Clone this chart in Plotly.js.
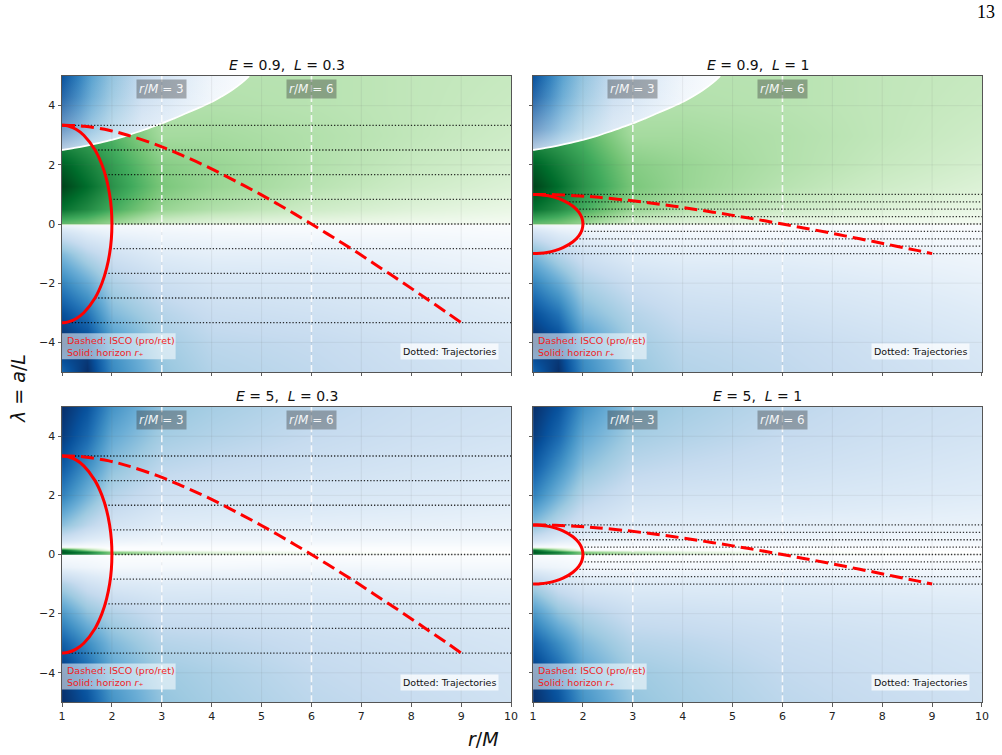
<!DOCTYPE html>
<html>
<head>
<meta charset="utf-8">
<script src="https://cdn.plot.ly/plotly-3.0.1.min.js"></script>
<style>
  html, body { margin: 0; padding: 0; background: #ffffff; }
  #chart { width: 1002px; height: 755px; }
</style>
</head>
<body>
<div id="chart"></div>
<script>
// ---------------- data ----------------
// Radial nodes (r/M) of the background field
const rNodes = [1, 1.5, 2, 3, 4, 6, 8, 10];

// Field for E = 0.9 (negative = blue, positive = green), rows follow lamNodesLowE
const lamNodesLowE = [-5, -4, -3, -2, -1, -0.3, -0.02, 0.02, 0.5, 1.3, 2, 3, 4, 5];
const fieldLowE = [
  [-0.80, -1.00, -0.66, -0.40, -0.31, -0.27, -0.22, -0.17],
  [-1.00, -0.92, -0.60, -0.36, -0.28, -0.25, -0.20, -0.15],
  [-0.88, -0.74, -0.45, -0.30, -0.23, -0.20, -0.16, -0.12],
  [-0.68, -0.52, -0.33, -0.22, -0.17, -0.15, -0.12, -0.09],
  [-0.45, -0.30, -0.20, -0.12, -0.10, -0.10, -0.08, -0.06],
  [-0.20, -0.12, -0.08, -0.06, -0.05, -0.04, -0.04, -0.03],
  [-0.08, -0.05, -0.04, -0.03, -0.02, -0.02, -0.02, -0.02],
  [ 0.55,  0.50,  0.40,  0.20,  0.14,  0.10,  0.07,  0.05],
  [ 0.85,  0.75,  0.62,  0.40,  0.32,  0.22,  0.15,  0.10],
  [ 1.00,  0.87,  0.72,  0.48,  0.40,  0.30,  0.22,  0.16],
  [ 0.92,  0.80,  0.68,  0.45,  0.40,  0.32,  0.25,  0.19],
  [ 0.70,  0.65,  0.58,  0.36,  0.36,  0.32,  0.27,  0.22],
  [ 0.60,  0.55,  0.50,  0.32,  0.32,  0.30,  0.27,  0.24],
  [ 0.55,  0.50,  0.45,  0.30,  0.30,  0.30,  0.27,  0.25]
];

// Field for E = 5, rows follow lamNodesHighE (thin green band just above lambda = 0)
const lamNodesHighE = [-5, -4, -3, -2, -1, -0.4, -0.02, 0.005, 0.08, 0.16, 0.26, 0.5, 1, 2, 3, 4, 5];
const fieldHighE = [
  [-1.00, -0.87, -0.62, -0.40, -0.35, -0.28, -0.24, -0.20],
  [-0.97, -0.80, -0.55, -0.37, -0.33, -0.26, -0.22, -0.19],
  [-0.82, -0.64, -0.45, -0.30, -0.28, -0.23, -0.20, -0.17],
  [-0.60, -0.42, -0.32, -0.22, -0.21, -0.18, -0.16, -0.14],
  [-0.32, -0.20, -0.14, -0.12, -0.12, -0.12, -0.10, -0.09],
  [-0.08, -0.06, -0.04, -0.04, -0.04, -0.05, -0.04, -0.04],
  [-0.02, -0.02, -0.01, -0.01, -0.01, -0.01, -0.01, -0.01],
  [ 0.85,  0.70,  0.50,  0.30,  0.18,  0.06,  0.02,  0.00],
  [ 0.95,  0.80,  0.45,  0.25,  0.14,  0.04,  0.01,  0.00],
  [ 0.90,  0.40, -0.01, -0.01, -0.01, -0.01, -0.01, -0.01],
  [-0.03, -0.02, -0.02, -0.02, -0.02, -0.02, -0.02, -0.02],
  [-0.20, -0.12, -0.08, -0.06, -0.06, -0.06, -0.05, -0.05],
  [-0.42, -0.28, -0.18, -0.12, -0.11, -0.10, -0.09, -0.08],
  [-0.68, -0.48, -0.30, -0.20, -0.18, -0.16, -0.14, -0.12],
  [-0.84, -0.64, -0.42, -0.28, -0.25, -0.21, -0.18, -0.15],
  [-0.95, -0.78, -0.52, -0.35, -0.31, -0.25, -0.21, -0.18],
  [-1.00, -0.87, -0.62, -0.40, -0.35, -0.28, -0.23, -0.20]
];

// Sign-change boundary of the E = 0.9 field (upper edge of the green band)
const boundaryR   = [1, 1.25, 1.5, 1.75, 2, 2.25, 2.5, 2.75, 3, 3.25, 3.5, 3.75, 4, 4.2, 4.4, 4.6, 4.75];
const boundaryLam = [2.5, 2.57, 2.65, 2.74, 2.84, 2.96, 3.1, 3.25, 3.4, 3.57, 3.75, 3.93, 4.12, 4.31, 4.52, 4.77, 5.0];
// Blue region above that boundary: fall-off to the right of r = 1 (along lambda = 5) ...
const aboveStopsR  = [0, 0.088, 0.16, 0.267, 0.427, 0.613, 0.8, 1];
const aboveValuesR = [-0.87, -0.70, -0.55, -0.40, -0.25, -0.14, -0.06, -0.02];
// ... and fading towards the boundary (white veil, bottom -> top)
const veilStops = [0, 0.28, 0.72, 1];
const veilAlpha = [0.72, 0.42, 0.12, 0];

// Horizon r_+ for L = 0.3 and L = 1
const horizonLam03 = [3.333, 3.325, 3.3, 3.2, 3.0, 2.5, 2.0, 1.5, 1.0, 0.5, 0, -0.5, -1.0, -1.5, -2.0, -2.5, -3.0, -3.2, -3.3, -3.325, -3.333];
const horizonR03   = [1.0, 1.071, 1.141, 1.28, 1.436, 1.661, 1.8, 1.893, 1.954, 1.989, 2.0, 1.989, 1.954, 1.893, 1.8, 1.661, 1.436, 1.28, 1.141, 1.071, 1.0];
const horizonLam1  = [1.0, 0.9975, 0.99, 0.96, 0.9, 0.8, 0.6, 0.4, 0.2, 0, -0.2, -0.4, -0.6, -0.8, -0.9, -0.96, -0.99, -0.9975, -1.0];
const horizonR1    = [1.0, 1.071, 1.141, 1.28, 1.436, 1.6, 1.8, 1.917, 1.98, 2.0, 1.98, 1.917, 1.8, 1.6, 1.436, 1.28, 1.141, 1.071, 1.0];

// ISCO (prograde -> retrograde)
const iscoLam03 = [3.333, 3.33, 3.3, 3.167, 3.0, 2.667, 2.333, 2.0, 1.667, 1.333, 1.0, 0.667, 0.333, 0, -0.333, -0.667, -1.0, -1.333, -1.667, -2.0, -2.333, -2.667, -3.0, -3.333];
const iscoLam1  = [1.0, 0.999, 0.99, 0.95, 0.9, 0.8, 0.7, 0.6, 0.5, 0.4, 0.3, 0.2, 0.1, 0, -0.1, -0.2, -0.3, -0.4, -0.5, -0.6, -0.7, -0.8, -0.9, -1.0];
const iscoR     = [1.0, 1.18, 1.45, 1.94, 2.32, 2.91, 3.39, 3.83, 4.23, 4.61, 4.98, 5.33, 5.67, 6.0, 6.32, 6.64, 6.95, 7.25, 7.55, 7.85, 8.14, 8.43, 8.72, 9.0];

// Trajectories: constant lambda, from the horizon out to r = 10
const trajLam03  = [3.333, 2.5, 1.667, 0.833, 0, -0.833, -1.667, -2.5, -3.333];
const trajLam1   = [1, 0.75, 0.5, 0.25, 0, -0.25, -0.5, -0.75, -1];
const trajStartR = [1.0, 1.661, 1.866, 1.968, 2.0, 1.968, 1.866, 1.661, 1.0];
const trajEndR   = 10;

// Reference radii
const markRadii  = [3, 6];
const markLabels = ['<i>r</i>/<i>M</i> = 3', '<i>r</i>/<i>M</i> = 6'];

// Key texts
const keyLines = ['Dashed: ISCO (pro/ret)', 'Solid: horizon <i>r</i>\u208A'];
const keyDotted = 'Dotted: Trajectories';

// Axis ticks
const xTicks = [1, 2, 3, 4, 5, 6, 7, 8, 9, 10];
const yTicks = [-4, -2, 0, 2, 4];

const panelTitles = [
  '<i>E</i> = 0.9,\u00a0 <i>L</i> = 0.3',
  '<i>E</i> = 0.9,\u00a0 <i>L</i> = 1',
  '<i>E</i> = 5,\u00a0 <i>L</i> = 0.3',
  '<i>E</i> = 5,\u00a0 <i>L</i> = 1'
];

// ---------------- styling helpers ----------------
const FONT = 'DejaVu Sans, Arial, sans-serif';
const blueRamp  = ['#ffffff', '#deebf7', '#c6dbef', '#9ecae1', '#6baed6', '#4292c6', '#2171b5', '#08519c', '#08306b'];
const greenRamp = ['#ffffff', '#e5f5e0', '#c7e9c0', '#a1d99b', '#74c476', '#41ab5d', '#238b45', '#006d2c', '#00441b'];

// diverging colour scale on [-1, 1]: blues below zero, greens above
const divergingScale = [];
for (let i = blueRamp.length - 1; i >= 1; i--) divergingScale.push([0.5 - i / 16, blueRamp[i]]);
divergingScale.push([0.5, '#ffffff']);
for (let i = 1; i < greenRamp.length; i++) divergingScale.push([0.5 + i / 16, greenRamp[i]]);

function hexToRgb(h) { return [1, 3, 5].map(k => parseInt(h.slice(k, k + 2), 16)); }
function rampColor(v) {
  const ramp = v < 0 ? blueRamp : greenRamp;
  const t = Math.min(Math.abs(v), 1) * (ramp.length - 1);
  const i = Math.min(Math.floor(t), ramp.length - 2), f = t - i;
  const a = hexToRgb(ramp[i]), b = hexToRgb(ramp[i + 1]);
  return 'rgb(' + a.map((c, k) => Math.round(c + (b[k] - c) * f)).join(',') + ')';
}

// ---------------- panels ----------------
const panels = [
  { xa: 'x',  ya: 'y',  highE: false, lam: horizonLam03, hr: horizonR03, isco: iscoLam03, traj: trajLam03, xdom: [0.0619, 0.510], ydom: [0.5073, 0.8993] },
  { xa: 'x2', ya: 'y2', highE: false, lam: horizonLam1,  hr: horizonR1,  isco: iscoLam1,  traj: trajLam1,  xdom: [0.532, 0.980],  ydom: [0.5073, 0.8993] },
  { xa: 'x3', ya: 'y3', highE: true,  lam: horizonLam03, hr: horizonR03, isco: iscoLam03, traj: trajLam03, xdom: [0.0619, 0.510], ydom: [0.0698, 0.4613] },
  { xa: 'x4', ya: 'y4', highE: true,  lam: horizonLam1,  hr: horizonR1,  isco: iscoLam1,  traj: trajLam1,  xdom: [0.532, 0.980],  ydom: [0.0698, 0.4613] }
];

const traces = [];
const annotations = [];
const shapes = [];
const layout = {
  width: 1002, height: 755,
  margin: { l: 0, r: 0, t: 0, b: 0 },
  paper_bgcolor: '#ffffff',
  plot_bgcolor: '#ffffff',
  showlegend: false,
  font: { family: FONT, color: '#222' }
};

// closed outline of the blue wedge above the boundary
const wedgeX = boundaryR.concat([4.75, 0.95, 0.95]);
const wedgeY = boundaryLam.concat([5.3, 5.3, 2.5]);

panels.forEach((p, idx) => {
  const ax = { xaxis: p.xa, yaxis: p.ya };
  const xd = p.xa + ' domain', yd = p.ya + ' domain';

  // background field
  traces.push(Object.assign({
    type: 'heatmap',
    x: rNodes,
    y: p.highE ? lamNodesHighE : lamNodesLowE,
    z: p.highE ? fieldHighE : fieldLowE,
    zmin: -1, zmax: 1,
    colorscale: divergingScale,
    zsmooth: 'best',
    showscale: false,
    hoverinfo: 'skip'
  }, ax));

  if (!p.highE) {
    // blue wedge above the sign-change boundary
    traces.push(Object.assign({
      type: 'scatter', mode: 'lines',
      x: wedgeX, y: wedgeY,
      fill: 'toself',
      fillgradient: {
        type: 'horizontal', start: 1, stop: 4.75,
        colorscale: aboveStopsR.map((s, i) => [s, rampColor(aboveValuesR[i])])
      },
      line: { width: 0 },
      hoverinfo: 'skip'
    }, ax));
    traces.push(Object.assign({
      type: 'scatter', mode: 'lines',
      x: wedgeX, y: wedgeY,
      fill: 'toself',
      fillgradient: {
        type: 'vertical', start: 2.5, stop: 5,
        colorscale: veilStops.map((s, i) => [s, 'rgba(255,255,255,' + veilAlpha[i] + ')'])
      },
      line: { width: 0 },
      hoverinfo: 'skip'
    }, ax));
    traces.push(Object.assign({
      type: 'scatter', mode: 'lines',
      x: boundaryR, y: boundaryLam,
      line: { color: '#ffffff', width: 1.8, shape: 'spline' },
      hoverinfo: 'skip'
    }, ax));
  }

  // faint grid
  const gx = [], gy = [];
  xTicks.slice(1, -1).forEach(t => { gx.push(t, t, null); gy.push(-5, 5, null); });
  yTicks.forEach(t => { gx.push(1, 10, null); gy.push(t, t, null); });
  traces.push(Object.assign({
    type: 'scatter', mode: 'lines', x: gx, y: gy,
    line: { color: 'rgba(110,110,110,0.13)', width: 0.8 },
    hoverinfo: 'skip'
  }, ax));

  // reference radii
  markRadii.forEach((rr, k) => {
    traces.push(Object.assign({
      type: 'scatter', mode: 'lines', x: [rr, rr], y: [-5, 5],
      line: { color: 'rgba(255,255,255,0.85)', width: 1.6, dash: '7px,3px' },
      hoverinfo: 'skip'
    }, ax));
    annotations.push({
      xref: p.xa, yref: p.ya, x: rr, y: 4.55, xanchor: 'center', yanchor: 'middle',
      text: markLabels[k], showarrow: false,
      font: { family: FONT, size: 12, color: 'rgba(255,255,255,0.92)' },
      bgcolor: 'rgba(55,55,55,0.38)', borderpad: 2
    });
  });

  // trajectories
  const tx = [], ty = [];
  p.traj.forEach((l, k) => { tx.push(trajStartR[k], trajEndR, null); ty.push(l, l, null); });
  traces.push(Object.assign({
    type: 'scatter', mode: 'lines', x: tx, y: ty,
    line: { color: 'rgba(0,0,0,0.8)', width: 1.3, dash: '1.3px,1.9px' },
    hoverinfo: 'skip'
  }, ax));

  // horizon
  traces.push(Object.assign({
    type: 'scatter', mode: 'lines', x: p.hr, y: p.lam,
    line: { color: '#ff0000', width: 3, shape: 'spline' },
    hoverinfo: 'skip'
  }, ax));

  // ISCO
  traces.push(Object.assign({
    type: 'scatter', mode: 'lines', x: iscoR, y: p.isco,
    line: { color: '#ff0000', width: 3, dash: '13px,6px', shape: 'spline' },
    hoverinfo: 'skip'
  }, ax));

  // panel title
  annotations.push({
    xref: xd, yref: yd, x: 0.5, y: 1, yshift: 1,
    xanchor: 'center', yanchor: 'bottom', showarrow: false,
    text: panelTitles[idx], font: { family: FONT, size: 14, color: '#111' }
  });

  // key box (lower left): translucent white panel with two red lines
  shapes.push({
    type: 'rect', xref: xd, yref: yd, x0: 0, x1: 0.253, y0: 0.043, y1: 0.131,
    fillcolor: 'rgba(255,255,255,0.55)', line: { width: 0 }, layer: 'above'
  });
  [0.106, 0.066].forEach((yy, k) => {
    annotations.push({
      xref: xd, yref: yd, x: 0.006, y: yy,
      xanchor: 'left', yanchor: 'middle', showarrow: false,
      text: keyLines[k],
      font: { family: FONT, size: 9.5, color: 'rgb(240,30,30)' }
    });
  });

  // key box (lower right)
  annotations.push({
    xref: xd, yref: yd, x: 0.974, y: 0.068,
    xanchor: 'right', yanchor: 'middle', showarrow: false,
    text: keyDotted,
    font: { family: FONT, size: 9.5, color: '#111' },
    bgcolor: 'rgba(255,255,255,0.72)', borderpad: 2
  });

  // axes
  const bottom = idx >= 2, left = idx % 2 === 0;
  const xKey = p.xa === 'x' ? 'xaxis' : 'xaxis' + p.xa.slice(1);
  const yKey = p.ya === 'y' ? 'yaxis' : 'yaxis' + p.ya.slice(1);
  layout[xKey] = {
    domain: p.xdom, anchor: p.ya, range: [1, 10],
    tickvals: xTicks, ticktext: xTicks.map(String),
    showticklabels: bottom, ticks: 'outside', ticklen: 3.5, tickwidth: 0.8, tickcolor: '#333',
    showline: true, mirror: true, linecolor: '#555', linewidth: 1,
    showgrid: false, zeroline: false, layer: 'above traces',
    tickfont: { family: FONT, size: 11, color: '#222' }
  };
  layout[yKey] = {
    domain: p.ydom, anchor: p.xa, range: [-5, 5],
    tickvals: yTicks,
    showticklabels: left, ticks: 'outside', ticklen: 3.5, tickwidth: 0.8, tickcolor: '#333',
    showline: true, mirror: true, linecolor: '#555', linewidth: 1,
    showgrid: false, zeroline: false, layer: 'above traces',
    tickfont: { family: FONT, size: 11, color: '#222' }
  };
});

// shared axis labels and page number
annotations.push({
  xref: 'paper', yref: 'paper', x: 483 / 1002, y: 1 - 739 / 755,
  xanchor: 'center', yanchor: 'middle', showarrow: false,
  text: '<i>r</i>/<i>M</i>', font: { family: FONT, size: 19, color: '#111' }
});
annotations.push({
  xref: 'paper', yref: 'paper', x: 18 / 1002, y: 1 - 389 / 755,
  xanchor: 'center', yanchor: 'middle', showarrow: false, textangle: -90,
  text: '<i>λ</i> = <i>a</i>/<i>L</i>', font: { family: FONT, size: 19, color: '#111' }
});
annotations.push({
  xref: 'paper', yref: 'paper', x: 986 / 1002, y: 1 - 12 / 755,
  xanchor: 'center', yanchor: 'middle', showarrow: false,
  text: '13', font: { family: 'Liberation Serif, DejaVu Serif, serif', size: 18, color: '#000' }
});

layout.annotations = annotations;
layout.shapes = shapes;

Plotly.newPlot('chart', traces, layout, { staticPlot: true, displayModeBar: false });
</script>
</body>
</html>
